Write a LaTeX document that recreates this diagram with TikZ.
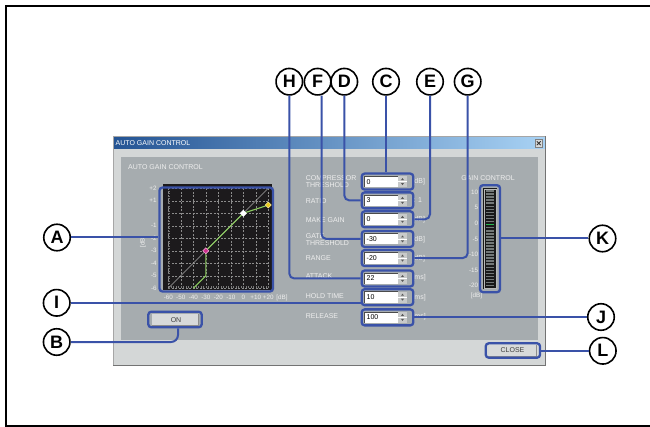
\documentclass[tikz,border=0pt]{standalone}
\usepackage{fontspec}
\setmainfont{Liberation Sans}
\usetikzlibrary{calc}
\definecolor{conn}{RGB}{58,82,168}
\definecolor{winbg}{RGB}{212,215,215}
\definecolor{panelc}{RGB}{166,172,175}
\definecolor{lbl}{RGB}{238,238,238}
\definecolor{tbdark}{RGB}{36,84,148}
\definecolor{tblight}{RGB}{168,210,244}
\definecolor{plotbg}{RGB}{28,26,28}
\definecolor{gridc}{RGB}{140,140,140}
\definecolor{tickc}{RGB}{120,120,120}
\definecolor{curvec}{RGB}{140,205,95}
\definecolor{pinkpt}{RGB}{205,45,140}
\definecolor{yellowpt}{RGB}{235,205,30}
\definecolor{btnc}{RGB}{216,218,218}
\definecolor{spinc}{RGB}{200,202,202}
\definecolor{segc}{RGB}{115,120,120}
\definecolor{greenseg}{RGB}{40,185,80}
\tikzset{
  callout/.style={circle, draw=black, line width=1.6pt, fill=white, minimum size=26.5pt, inner sep=0pt, font=\bfseries\fontsize{18}{18}\selectfont},
  link/.style={draw=conn, line width=2pt, rounded corners=5pt},
  hl/.style={draw=conn, line width=2.3pt, rounded corners=3pt, inner sep=0pt},
  fieldbox/.style={hl, minimum width=51.6pt, minimum height=16pt},
  ui/.style={font=\fontsize{7}{7.3}\selectfont, text=lbl, inner sep=0pt},
  axl/.style={font=\fontsize{6.3}{7}\selectfont, text=lbl, inner sep=0pt},
  valtxt/.style={font=\fontsize{7}{7.5}\selectfont, text=black, inner sep=0pt},
  btntxt/.style={font=\fontsize{7}{7.5}\selectfont, text=black!75, inner sep=0pt},
  gridline/.style={draw=gridc, line width=0.45pt, dash pattern=on 2pt off 1.5pt},
  tickline/.style={draw=tickc, line width=0.35pt},
}
\newcommand\agcfield[3]{%
  \fill[white] (364.5,#2-5.5) rectangle (397.5,#2+5.5);
  \draw[black!70, line width=0.7pt] (364.5,#2+5.5) -- (364.5,#2-5.5) -- (397.5,#2-5.5);
  \fill[spinc] (398,#2-5.5) rectangle (407,#2+5.5);
  \draw[white, line width=0.4pt] (398,#2) -- (407,#2);
  \fill[black!65] (401,#2-1.5) -- (404,#2-1.5) -- (402.5,#2-3.5) -- cycle;
  \fill[black!65] (401,#2+1.5) -- (404,#2+1.5) -- (402.5,#2+3.5) -- cycle;
  \node[valtxt, anchor=west] at (366.5,#2) {#3};
  \node[fieldbox] (#1) at (387.5,#2) {};
}
\newcommand\agcmark[3]{%
  \filldraw[fill=#3, draw=#3!45!white, line width=0.6pt] (#1-3,#2) -- (#1,#2-3) -- (#1+3,#2) -- (#1,#2+3) -- cycle;}
\begin{document}
\begin{tikzpicture}[x=1pt, y=-1pt]
\useasboundingbox (0,0) rectangle (650,427);
% outer frame
\draw[line width=2pt] (651,5.7) -- (6.2,5.7) -- (6.2,425.5) -- (651,425.5);

% callouts
\node[callout] (H) at (289.3,81.7) {H};
\node[callout] (F) at (317.6,81.7) {F};
\node[callout] (D) at (344.3,81.7) {D};
\node[callout] (C) at (386,81.7) {C};
\node[callout] (E) at (430,81.7) {E};
\node[callout] (G) at (467.7,81.7) {G};
\node[callout] (A) at (57,237.5) {A};
\node[callout] (I) at (56.7,302.8) {I};
\node[callout] (B) at (56.7,342) {B};
\node[callout] (K) at (602.5,238.5) {K};
\node[callout] (J) at (601,317) {J};
\node[callout] (L) at (602.8,350.8) {L};

% window
\fill[winbg] (113.3,136.5) rectangle (545.5,365.5);
\draw[gray!70, line width=0.6pt] (113.3,365.5) -- (113.3,136.5) -- (545.5,136.5);
\draw[black!55, line width=1.3pt] (545.5,136.5) -- (545.5,365.5) -- (113.3,365.5);
\shade[left color=tbdark, right color=tblight] (114,137.5) rectangle (544.8,148.5);
\node[font=\fontsize{7}{7.5}\selectfont, text=white, anchor=west, inner sep=0pt] at (115.5,143) {AUTO GAIN CONTROL};
\fill[btnc] (535,139.5) rectangle (542.5,147);
\draw[gray, line width=0.4pt] (535,139.5) rectangle (542.5,147);
\draw[black!80, line width=0.8pt] (536.8,141.3) -- (540.7,145.2) (536.8,145.2) -- (540.7,141.3);
\fill[panelc] (121,157) rectangle (537.7,339.5);
\node[ui, anchor=west] at (128,167) {AUTO GAIN CONTROL};

% plot
\fill[plotbg] (163,184.5) rectangle (271.5,290.5);
\foreach \k in {0,...,8} {
  \draw[gridline] ({168.3+12.5*\k},188.3) -- ({168.3+12.5*\k},288.3);
  \draw[gridline] (168.3,{188.3+12.5*\k}) -- (268.3,{188.3+12.5*\k});
}
\foreach \t in {0,...,40} {
  \draw[tickline] (168.3,{188.3+2.5*\t}) -- (170.3,{188.3+2.5*\t});
  \draw[tickline] ({168.3+2.5*\t},288.3) -- ({168.3+2.5*\t},286.3);
}
\draw[gray!70, line width=0.5pt] (168.3,288.3) -- (268.3,188.3);
\draw[curvec, line width=1.1pt] (193.3,288.3) -- (205.8,275.8) -- (205.8,250.8) -- (243.3,213.3) -- (268.3,205);
\agcmark{205.8}{250.8}{pinkpt}
\agcmark{243.3}{213.3}{white}
\agcmark{268.3}{205}{yellowpt}
\foreach \k/\v in {0/+2,1/+1,3/-1,4/-2,5/-3,6/-4,7/-5,8/-6}
  \node[axl, anchor=east] at (156.8,{188.3+12.5*\k}) {\v};
\node[axl, rotate=90] at (143,242) {[dB]};
\foreach \k/\v in {0/-60,1/-50,2/-40,3/-30,4/-20,5/-10,6/0,7/+10,8/+20}
  \node[axl] at ({168.3+12.5*\k},297.7) {\v};
\node[axl] at (282,297.7) {[dB]};
\node[hl, minimum width=113.5pt, minimum height=104pt] (plotbox) at (216.25,239.5) {};

% ON button
\fill[btnc] (151.5,314) rectangle (198.5,325);
\draw[black!45, line width=0.6pt] (151.5,325) -- (198.5,325) -- (198.5,314);
\node[btntxt] at (176,319.7) {ON};
\node[hl, minimum width=53.4pt, minimum height=15.6pt] (onbox) at (175,319.5) {};

% parameter labels
\node[ui, anchor=west, align=left] at (305.6,181.4) {COMPRESSOR\\THRESHOLD};
\node[ui, anchor=west] at (305.6,200.8) {RATIO};
\node[ui, anchor=west] at (305.6,220) {MAKE GAIN};
\node[ui, anchor=west, align=left] at (305.6,239.4) {GATE\\THRESHOLD};
\node[ui, anchor=west] at (305.6,258) {RANGE};
\node[ui, anchor=west] at (305.6,276.5) {ATTACK};
\node[ui, anchor=west] at (305.6,296.5) {HOLD TIME};
\node[ui, anchor=west] at (305.6,315.8) {RELEASE};
% units
\node[ui, anchor=west] at (412.3,182) {[dB]};
\node[ui, anchor=west] at (413.5,200.3) {: 1};
\node[ui, anchor=west] at (412.3,219.8) {[dB]};
\node[ui, anchor=west] at (412.3,239.2) {[dB]};
\node[ui, anchor=west] at (412.3,258.5) {[dB]};
\node[ui, anchor=west] at (412.3,278) {[ms]};
\node[ui, anchor=west] at (412.3,297.3) {[ms]};
\node[ui, anchor=west] at (412.3,316.6) {[ms]};
% fields
\agcfield{compbox}{181.6}{0}
\agcfield{ratiobox}{200.4}{3}
\agcfield{makebox}{219.3}{0}
\agcfield{gatebox}{239}{-30}
\agcfield{rangebox}{258.1}{-20}
\agcfield{attackbox}{278.5}{22}
\agcfield{holdbox}{297.2}{10}
\agcfield{relbox}{317.4}{100}

% gain meter
\node[ui] at (488,178) {GAIN CONTROL};
\fill[black!90] (483,188) rectangle (497,289.5);
\draw[gray!55, line width=0.5pt] (484.2,189.2) rectangle (495.8,288.3);
\foreach \i in {0,...,31}
  \fill[segc] (485.7,{190.3+3.05*\i}) rectangle (494.3,{191.9+3.05*\i});
\fill[greenseg] (485.7,{190.3+3.05*11}) rectangle (494.3,{191.9+3.05*11});
\foreach \y/\v in {192.3/10,207.7/5,223.3/0,239/-5,254.3/-10,270/-15,285.3/-20}
  \node[axl, anchor=east] at (478.3,\y) {\v};
\node[axl] at (476.5,296) {[dB]};
\node[hl, minimum width=20pt, minimum height=107pt] (meterbox) at (490,238.7) {};

% CLOSE button
\fill[btnc] (488.5,345) rectangle (537.5,356);
\draw[black!45, line width=0.6pt] (488.5,356) -- (536.5,356) -- (536.5,345);
\node[btntxt] at (512.5,350.5) {CLOSE};
\node[hl, minimum width=54.3pt, minimum height=14.4pt] (closebox) at (512.9,350.5) {};

% connectors
\draw[link] (C.south) -- (C.south |- compbox.north);
\draw[link] (D.south) |- (ratiobox.west);
\draw[link] ([xshift=3.9pt]F.south) |- (gatebox.west);
\draw[link] (H.south) |- (attackbox.west);
\draw[link] (E.south) |- (makebox.east);
\draw[link] (G.south) |- (rangebox.east);
\draw[link] (A.east) -- (A.east -| plotbox.west);
\draw[link] (I.east) -- (I.east -| holdbox.west);
\draw[link, rounded corners=7pt] (B.east) -| ([xshift=3pt]onbox.south);
\draw[link] (K.west) -- (K.west -| meterbox.east);
\draw[link] (J.west) -- (J.west -| relbox.east);
\draw[link] (L.west) -- (L.west -| closebox.east);
\end{tikzpicture}
\end{document}
